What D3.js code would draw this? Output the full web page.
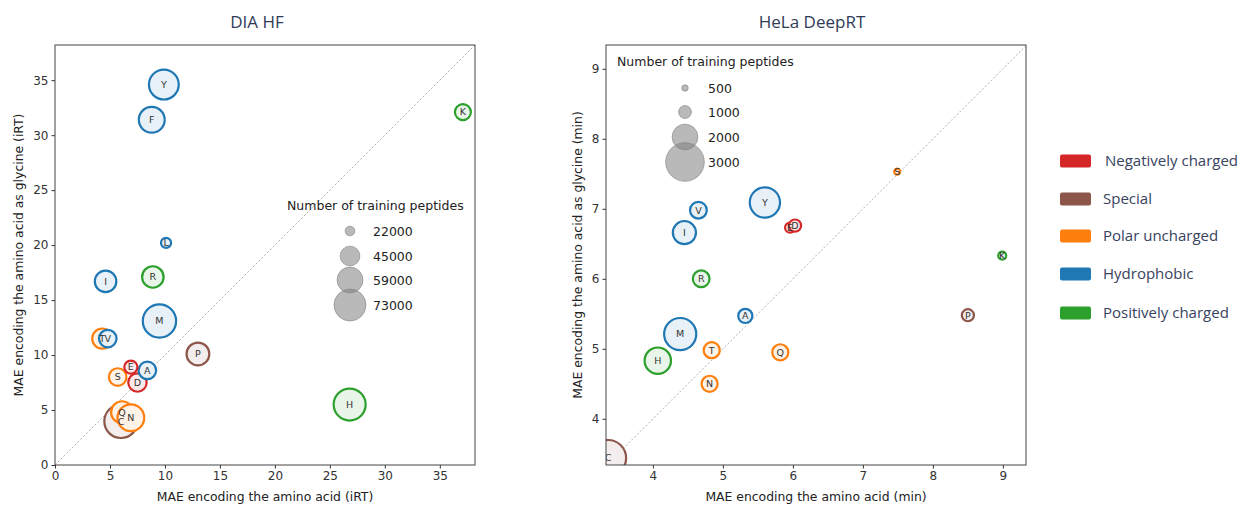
<!DOCTYPE html>
<html>
<head>
<meta charset="utf-8">
<script src="https://cdn.jsdelivr.net/npm/d3@7"></script>
<style>
  body { margin: 0; background: #fff; }
  svg text { font-family: "DejaVu Sans", sans-serif; }
  .tick text { font-size: 12px; fill: #333; }
  .tick line { stroke: #333; }
  .axis-label { font-size: 12.4px; fill: #222; }
  .title { font-family: "Open Sans", sans-serif !important; font-size: 17px; fill: #2f3b57; }
  .cat-label { font-family: "Open Sans", sans-serif !important; font-size: 15px; fill: #37435e; }
</style>
</head>
<body>
<svg id="svg1" width="1240" height="505"></svg>
<script>
const svg1 = d3.select('#svg1');

// amino acid groups
const categories = ['Negatively charged', 'Special', 'Polar uncharged', 'Hydrophobic', 'Positively charged'];
const catColours = ['#d62728', '#8c564b', '#ff7f0e', '#1f77b4', '#2ca02c'];
const groupOf = {
  D: 0, E: 0,
  C: 1, P: 1,
  S: 2, T: 2, N: 2, Q: 2,
  A: 3, V: 3, I: 3, L: 3, M: 3, F: 3, Y: 3, W: 3,
  K: 4, R: 4, H: 4
};

// DIA HF panel
const hfLetters  = ['C', 'Q', 'N', 'M', 'Y', 'H', 'F', 'P', 'T', 'V', 'I', 'R', 'D', 'S', 'A', 'E', 'K', 'L'];
const hfX        = [6.0, 6.1, 6.9, 9.5, 9.9, 26.8, 8.8, 13.0, 4.3, 4.8, 4.6, 8.9, 7.5, 5.7, 8.4, 6.9, 37.1, 10.1];
const hfY        = [3.97, 4.8, 4.3, 13.1, 34.6, 5.5, 31.4, 10.1, 11.5, 11.5, 16.7, 17.1, 7.5, 8.0, 8.6, 8.9, 32.1, 20.2];
const hfPeptides = [76000, 50000, 61000, 76000, 68000, 73000, 59000, 52000, 46000, 40000, 49000, 49000, 42000, 40000, 40000, 30000, 36500, 23000];
const hfLegend   = [22000, 45000, 59000, 73000];
const hfTicks    = [0, 5, 10, 15, 20, 25, 30, 35];

// HeLa DeepRT panel
const rtLetters  = ['C', 'M', 'Y', 'H', 'I', 'V', 'R', 'T', 'N', 'Q', 'A', 'E', 'D', 'P', 'K', 'S'];
const rtX        = [3.36, 4.39, 5.6, 4.07, 4.45, 4.65, 4.69, 4.84, 4.81, 5.82, 5.32, 5.96, 6.03, 8.5, 8.99, 7.49];
const rtY        = [3.44, 5.21, 7.09, 4.83, 6.66, 6.98, 6.0, 4.98, 4.5, 4.95, 5.47, 6.73, 6.76, 5.48, 6.33, 7.53];
const rtPeptides = [2800, 2500, 2350, 2050, 1800, 1300, 1300, 1250, 1250, 1250, 1100, 780, 950, 940, 620, 470];
const rtLegend   = [500, 1000, 2000, 3000];
const rtTicks    = [4, 5, 6, 7, 8, 9];

const panels = [
  {
    id: 'hf', title: 'DIA HF', titleX: 257,
    left: 55, right: 475, top: 45, bottom: 465,
    xDomain: [0, 38.2], yDomain: [0, 38.2], ticks: hfTicks,
    letters: hfLetters, xs: hfX, ys: hfY, peps: hfPeptides,
    rMax: [73000, 16], legend: hfLegend,
    legTitle: [287, 210], legCx: 350, legCy: [231, 256, 280, 305], legTx: 373,
    xLabel: 'MAE encoding the amino acid (iRT)',
    yLabel: 'MAE encoding the amino acid as glycine (iRT)', yLabelX: 19
  },
  {
    id: 'rt', title: 'HeLa DeepRT', titleX: 812,
    left: 606, right: 1026, top: 45, bottom: 465,
    xDomain: [3.33, 9.33], yDomain: [3.34, 9.34], ticks: rtTicks,
    letters: rtLetters, xs: rtX, ys: rtY, peps: rtPeptides,
    rMax: [3000, 19.3], legend: rtLegend,
    legTitle: [617, 66], legCx: 685, legCy: [88, 112, 137, 162], legTx: 708,
    xLabel: 'MAE encoding the amino acid (min)',
    yLabel: 'MAE encoding the amino acid as glycine (min)', yLabelX: 578
  }
];

const render = p => {
  const xScale = d3.scaleLinear().domain(p.xDomain).range([p.left, p.right]);
  const yScale = d3.scaleLinear().domain(p.yDomain).range([p.bottom, p.top]);
  const rScale = d3.scaleLinear().domain([0, p.rMax[0]]).range([0, p.rMax[1]]);

  const g = svg1.append('g');

  g.append('clipPath').attr('id', 'clip-' + p.id)
    .append('rect')
    .attr('x', p.left).attr('y', p.top)
    .attr('width', p.right - p.left).attr('height', p.bottom - p.top);

  // y = x reference line
  const hi = Math.min(p.xDomain[1], p.yDomain[1]);
  g.append('line')
    .attr('clip-path', `url(#clip-${p.id})`)
    .attr('x1', xScale(p.xDomain[0])).attr('y1', yScale(p.xDomain[0]))
    .attr('x2', xScale(hi)).attr('y2', yScale(hi))
    .attr('stroke', '#9a9a9a').attr('stroke-width', 0.8)
    .attr('stroke-dasharray', '2,2');

  // size legend
  g.append('text')
    .attr('x', p.legTitle[0]).attr('y', p.legTitle[1])
    .attr('font-size', 12.5).attr('fill', '#222')
    .text('Number of training peptides');
  p.legend.forEach((v, i) => {
    g.append('circle')
      .attr('cx', p.legCx).attr('cy', p.legCy[i]).attr('r', rScale(v))
      .attr('fill', '#808080').attr('fill-opacity', 0.55)
      .attr('stroke', '#808080').attr('stroke-opacity', 0.6).attr('stroke-width', 1);
    g.append('text')
      .attr('x', p.legTx).attr('y', p.legCy[i] + 4.5)
      .attr('font-size', 12.5).attr('fill', '#222')
      .text(v);
  });

  // points, then letters on top
  const data = p.letters.map((l, i) => ({ l, x: p.xs[i], y: p.ys[i], n: p.peps[i] }));
  const clipG = g.append('g').attr('clip-path', `url(#clip-${p.id})`);
  const pts = clipG.selectAll('g.pt').data(data).enter().append('g')
    .attr('class', 'pt')
    .attr('transform', d => `translate(${xScale(d.x)},${yScale(d.y)})`);
  pts.append('circle')
    .attr('r', d => rScale(d.n))
    .attr('fill', '#fff');
  pts.append('circle')
    .attr('r', d => rScale(d.n))
    .attr('fill', d => catColours[groupOf[d.l]]).attr('fill-opacity', 0.1)
    .attr('stroke', d => catColours[groupOf[d.l]]).attr('stroke-width', 2.2);
  clipG.selectAll('text.lab').data(data).enter().append('text')
    .attr('class', 'lab')
    .attr('x', d => xScale(d.x)).attr('y', d => yScale(d.y))
    .attr('text-anchor', 'middle').attr('dy', '0.35em')
    .attr('font-size', 9.5).attr('fill', '#333')
    .text(d => d.l);

  // axes
  const xAxis = d3.axisBottom(xScale).tickValues(p.ticks).tickFormat(d3.format('d')).tickSize(3.5).tickPadding(3);
  const yAxis = d3.axisLeft(yScale).tickValues(p.ticks).tickFormat(d3.format('d')).tickSize(3.5).tickPadding(3);
  const xAxisG = g.append('g').attr('transform', `translate(0,${p.bottom})`).call(xAxis);
  const yAxisG = g.append('g').attr('transform', `translate(${p.left},0)`).call(yAxis);
  xAxisG.select('.domain').remove();
  yAxisG.select('.domain').remove();

  g.append('rect')
    .attr('x', p.left).attr('y', p.top)
    .attr('width', p.right - p.left).attr('height', p.bottom - p.top)
    .attr('fill', 'none').attr('stroke', '#444').attr('stroke-width', 1);

  g.append('text')
    .attr('class', 'axis-label')
    .attr('x', (p.left + p.right) / 2).attr('y', 501)
    .attr('text-anchor', 'middle')
    .text(p.xLabel);
  g.append('text')
    .attr('class', 'axis-label')
    .attr('transform', `translate(${p.yLabelX},${(p.top + p.bottom) / 2}) rotate(-90)`)
    .attr('text-anchor', 'middle').attr('dy', '0.35em')
    .text(p.yLabel);

  g.append('text')
    .attr('class', 'title')
    .attr('x', p.titleX).attr('y', 28)
    .attr('text-anchor', 'middle')
    .text(p.title);
};

panels.forEach(render);

// colour legend
const catCy = [161, 199, 236, 274, 313];
const leg = svg1.append('g');
categories.forEach((c, i) => {
  leg.append('rect')
    .attr('x', 1060).attr('y', catCy[i] - 6.5)
    .attr('width', 31).attr('height', 13).attr('rx', 2)
    .attr('fill', catColours[i]);
  leg.append('text')
    .attr('class', 'cat-label')
    .attr('x', i === 0 ? 1105 : 1103).attr('y', catCy[i] + 5)
    .text(c);
});
</script>
</body>
</html>
